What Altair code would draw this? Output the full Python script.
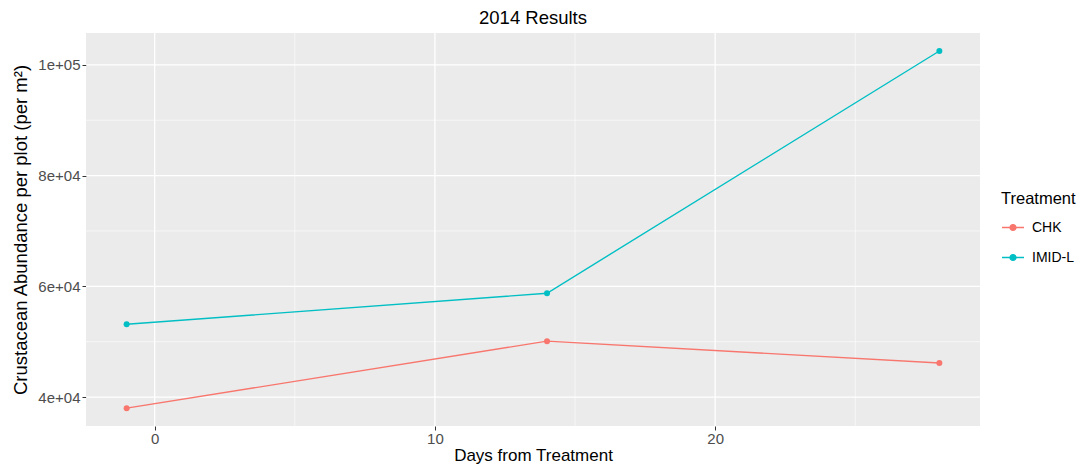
import altair as alt
import pandas as pd

days = [-1, 14, 28]
chk = [38000, 50100, 46150]
imid = [53150, 58750, 102500]
treatments = ["CHK", "IMID-L"]
colors = ["#F8766D", "#00BFC4"]

x_major = [0, 10, 20]
x_minor = [5, 15, 25]
y_major = [40000, 60000, 80000, 100000]
y_minor = [50000, 70000, 90000]

rows = []
for d, v in zip(days, chk):
    rows.append({"day": d, "abund": v, "Treatment": "CHK"})
for d, v in zip(days, imid):
    rows.append({"day": d, "abund": v, "Treatment": "IMID-L"})
df = pd.DataFrame(rows)

xdom = [-2.45, 29.45]
ydom = [34775, 105750]
xs = alt.Scale(domain=xdom, nice=False, zero=False)
ys = alt.Scale(domain=ydom, nice=False, zero=False)

vmin = alt.Chart(pd.DataFrame({"v": x_minor})).mark_rule(color="white", strokeWidth=0.6).encode(
    x=alt.X("v:Q", scale=xs))
vmaj = alt.Chart(pd.DataFrame({"v": x_major})).mark_rule(color="white", strokeWidth=1.3).encode(
    x=alt.X("v:Q", scale=xs))
hmin = alt.Chart(pd.DataFrame({"v": y_minor})).mark_rule(color="white", strokeWidth=0.6).encode(
    y=alt.Y("v:Q", scale=ys))
hmaj = alt.Chart(pd.DataFrame({"v": y_major})).mark_rule(color="white", strokeWidth=1.3).encode(
    y=alt.Y("v:Q", scale=ys))

color = alt.Color(
    "Treatment:N",
    scale=alt.Scale(domain=treatments, range=colors),
    legend=alt.Legend(
        title="Treatment",
        orient="none",
        legendX=915,
        legendY=158,
        titleFontSize=16.5,
        titleFontWeight="normal",
        titleColor="black",
        titlePadding=8,
        labelFontSize=14,
        labelColor="black",
        labelOffset=7,
        rowPadding=11,
        symbolType="M-1,0L1,0M0.27,0A0.27,0.27,0,1,1,-0.27,0A0.27,0.27,0,1,1,0.27,0Z",
        symbolSize=484,
        symbolStrokeWidth=1.3,
        symbolFillColor={"expr": "scale('color', datum.value)"},
        symbolStrokeColor={"expr": "scale('color', datum.value)"},
    ),
)

xaxis = alt.Axis(values=x_major, grid=False, domain=False, tickColor="#333333", tickSize=4,
                 labelFontSize=15, labelColor="#4D4D4D", labelPadding=1,
                 title="Days from Treatment", titleFontSize=17, titleFontWeight="normal",
                 titleColor="black", titlePadding=1)
yaxis = alt.Axis(values=y_major, grid=False, domain=False, tickColor="#333333", tickSize=4,
                 labelFontSize=15, labelColor="#4D4D4D", labelPadding=2,
                 labelExpr="replace(format(datum.value, '.0e'), 'e+', 'e+0')",
                 title="Crustacean Abundance per plot (per m²)", titleFontSize=18.5,
                 titleFontWeight="normal", titleColor="black", titlePadding=7)

line = alt.Chart(df).mark_line(strokeWidth=1.4).encode(
    x=alt.X("day:Q", scale=xs, axis=xaxis),
    y=alt.Y("abund:Q", scale=ys, axis=yaxis),
    color=color,
)
pts = alt.Chart(df).mark_circle(size=36, opacity=1).encode(
    x=alt.X("day:Q", scale=xs),
    y=alt.Y("abund:Q", scale=ys),
    color=alt.Color("Treatment:N", scale=alt.Scale(domain=treatments, range=colors), legend=None),
)

chart = alt.layer(vmin, vmaj, hmin, hmaj, line, pts).properties(
    width=894,
    height=393,
    title=alt.TitleParams("2014 Results", fontSize=18.5, fontWeight="normal", color="black",
                          anchor="middle", offset=5),
    autosize=alt.AutoSizeParams(type="none"),
    padding={"left": 78, "top": 25, "right": 101, "bottom": 39},
).configure(
    font="Liberation Sans"
).configure_view(fill="#EBEBEB", strokeWidth=0)

chart.save("out.html", embed_options={"renderer": "svg", "actions": False})
